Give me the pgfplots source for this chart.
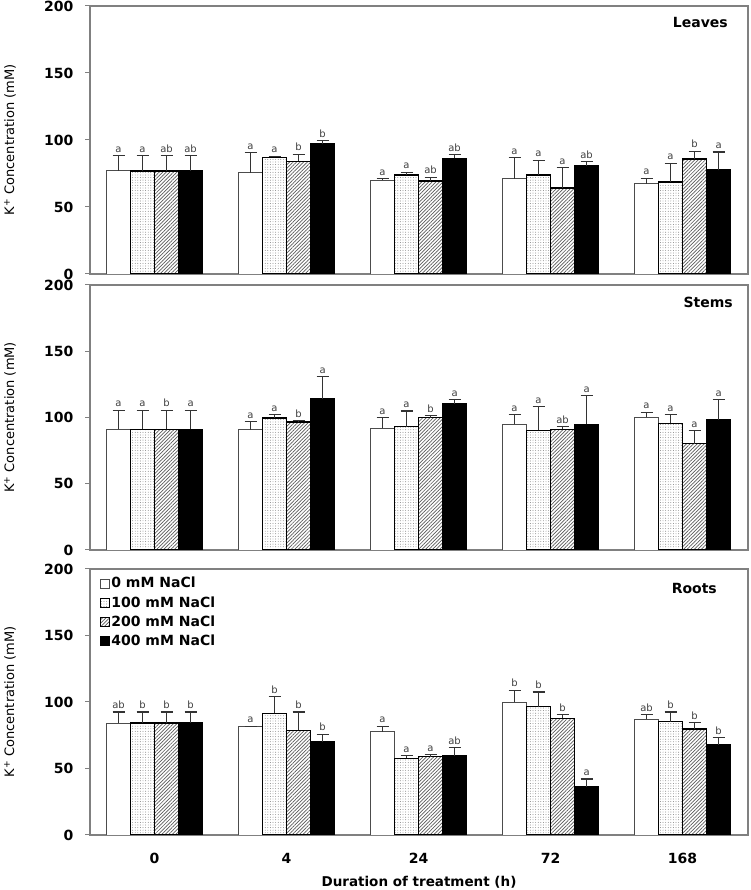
\documentclass[border=0pt]{standalone}
\usepackage{fontspec}
\setmainfont{DejaVu Sans}
\usepackage{pgfplots}
\pgfplotsset{compat=1.18}
\usepackage{pgfplotstable}
\usetikzlibrary{patterns.meta}

% g = group (0,4,24,72,168 h), v = mean, e = error, l = letter
\pgfplotstableread{
g v0 e0 l0 v1 e1 l1 v2 e2 l2 v3 e3 l3
0 77.0 11.5 a 77.0 11.5 a 77.0 11.5 ab 77.0 11.5 ab
1 75.5 15.0 a 87.0 1.0 a 84.0 5.5 b 96.8 2.5 b
2 70.0 1.0 a 74.0 2.0 a 69.2 3.0 ab 86.3 2.7 ab
3 71.0 16.0 a 74.0 11.0 a 64.2 15.0 a 80.8 3.0 ab
4 67.2 4.2 a 68.7 14.0 a 85.6 6.0 b 77.4 13.6 a
}\leaves

\pgfplotstableread{
g v0 e0 l0 v1 e1 l1 v2 e2 l2 v3 e3 l3
0 91.0 14.4 a 91.0 14.4 a 91.0 14.4 b 91.0 14.4 a
1 90.8 6.0 a 99.6 2.5 a 96.4 1.0 b 114.0 16.8 a
2 91.8 8.3 a 93.1 11.8 a 99.9 1.7 b 110.4 3.0 a
3 94.8 7.3 a 90.3 18.0 a 91.0 2.0 ab 94.8 21.7 a
4 100.1 4.0 a 95.6 6.5 a 80.3 10.0 a 98.1 15.3 a
}\stems

\pgfplotstableread{
g v0 e0 l0 v1 e1 l1 v2 e2 l2 v3 e3 l3
0 84.2 8.3 ab 84.2 8.3 b 84.2 8.3 b 84.2 8.3 b
1 81.7 0.0 a 91.5 12.3 b 78.7 13.8 b 69.7 6.0 b
2 77.7 4.0 a 57.6 2.0 a 58.9 1.7 a 59.6 6.0 ab
3 99.8 9.0 b 96.5 11.0 b 87.7 2.8 b 36.3 5.8 a
4 87.2 3.3 ab 85.2 7.3 b 79.7 4.7 b 67.7 5.6 b
}\roots

\pgfplotsset{
  panel/.style={
    scale only axis, width=658pt,
    xmin=-0.489, xmax=4.496, ymin=0, ymax=200,
    ytick={0,50,...,200}, ytick pos=left,
    tick align=outside, major tick length=5pt,
    xtick={0,...,4}, xticklabels=\empty, xtick style={draw=none},
    axis line style={black!50, line width=1.2pt},
    every tick/.style={black!50, line width=1pt},
    /pgf/number format/assume math mode=true,
    yticklabel style={font=\fontsize{14}{14}\selectfont\bfseries, xshift=-8pt},
    ylabel={K\textsuperscript{+} Concentration (mM)},
    ylabel style={at={(axis description cs:-0.1216,0.5)}, anchor=center,
      font=\fontsize{13}{13}\selectfont},
  },
  s0/.style={ybar, bar width=0.182, bar shift=0pt, fill=white, draw=black!70, line width=0.9pt},
  s1/.style={ybar, bar width=0.182, bar shift=0pt, draw=black, line width=1.6pt,
    pattern={Dots[distance=2.6pt, radius=0.45pt]}, pattern color=black!55},
  s2/.style={ybar, bar width=0.182, bar shift=0pt, draw=black, line width=1.6pt,
    pattern={Lines[angle=45, distance=2.5pt, line width=0.7pt]}, pattern color=black!65},
  s3/.style={ybar, bar width=0.182, bar shift=0pt, fill=black, draw=black, line width=1.6pt},
  eb/.style={error bars/.cd, y dir=plus, y explicit, error mark=-,
    error bar style={line width=1.1pt, black!80},
    error mark options={rotate=90, line width=1.1pt, black!80, mark size=6pt}},
  lbl/.style={draw=none, mark=none, forget plot, nodes near coords, point meta=explicit symbolic,
    nodes near coords style={font=\fontsize{10}{10}\selectfont, text=black!75,
      anchor=south, inner sep=1pt, yshift=2pt}},
  legend image code/.code={\draw[#1, line width=0.8pt] (0pt,-4.5pt) rectangle (9pt,4.5pt);},
}

\newcommand{\groupbars}[1]{%
  \addplot[s0, eb] table[x expr=\thisrow{g}-0.273, y=v0, y error=e0] {#1};
  \addplot[s1, eb] table[x expr=\thisrow{g}-0.091, y=v1, y error=e1] {#1};
  \addplot[s2, eb] table[x expr=\thisrow{g}+0.091, y=v2, y error=e2] {#1};
  \addplot[s3, eb] table[x expr=\thisrow{g}+0.273, y=v3, y error=e3] {#1};
  \addplot[lbl] table[x expr=\thisrow{g}-0.273, y expr=\thisrow{v0}+\thisrow{e0}, meta=l0] {#1};
  \addplot[lbl] table[x expr=\thisrow{g}-0.091, y expr=\thisrow{v1}+\thisrow{e1}, meta=l1] {#1};
  \addplot[lbl] table[x expr=\thisrow{g}+0.091, y expr=\thisrow{v2}+\thisrow{e2}, meta=l2] {#1};
  \addplot[lbl] table[x expr=\thisrow{g}+0.273, y expr=\thisrow{v3}+\thisrow{e3}, meta=l3] {#1};
}

\begin{document}
\begin{tikzpicture}
\path[use as bounding box] (0,0) rectangle (750pt,890pt);

\begin{axis}[panel, height=268pt, at={(90pt,616pt)}, anchor=south west]
  \groupbars{\leaves}
  \node[anchor=north east, inner sep=0pt, font=\fontsize{14}{14}\selectfont\bfseries,
    xshift=-20pt, yshift=-11pt] at (rel axis cs:1,1) {Leaves};
\end{axis}

\begin{axis}[panel, height=265pt, at={(90pt,340pt)}, anchor=south west]
  \groupbars{\stems}
  \node[anchor=north east, inner sep=0pt, font=\fontsize{14}{14}\selectfont\bfseries,
    xshift=-15pt, yshift=-12pt] at (rel axis cs:1,1) {Stems};
\end{axis}

\begin{axis}[panel, height=266pt, at={(90pt,55pt)}, anchor=south west,
    xticklabels={0,4,24,72,168},
    xticklabel style={font=\fontsize{14}{14}\selectfont\bfseries, yshift=-10pt},
    xlabel={Duration of treatment (h)},
    xlabel style={at={(axis description cs:0.5,0)}, anchor=center, yshift=-47pt,
      font=\fontsize{13.5}{13.5}\selectfont\bfseries},
    legend style={at={(rel axis cs:0.015,0.975)}, anchor=north west, draw=none, fill=none,
      font=\fontsize{14}{14}\selectfont\bfseries, row sep=4pt, inner sep=0pt,
      nodes={inner sep=1.5pt}},
    legend cell align=left]
  \groupbars{\roots}
  \legend{0 mM NaCl, 100 mM NaCl, 200 mM NaCl, 400 mM NaCl}
  \node[anchor=north east, inner sep=0pt, font=\fontsize{14}{14}\selectfont\bfseries,
    xshift=-31pt, yshift=-14pt] at (rel axis cs:1,1) {Roots};
\end{axis}
\end{tikzpicture}
\end{document}
